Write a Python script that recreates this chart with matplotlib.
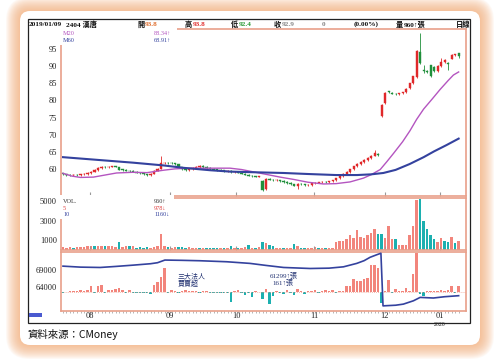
import matplotlib.pyplot as plt
from matplotlib.patches import FancyBboxPatch, Rectangle

plt.rcParams['font.family'] = ['Liberation Serif', 'Noto Sans CJK TC', 'DejaVu Sans']

# ---- K線資料 (開 / 高 / 低 / 收), 114 個交易日 ----
opn = [58.9, 58.5, 58.3, 58.2, 58.4, 58.3, 58.5, 58.6, 58.9, 59.3,
       59.7, 60.4, 60.6, 60.5, 60.7, 60.8, 60.6, 59.9, 59.8, 59.6,
       59.5, 59.3, 59.0, 58.8, 58.5, 58.3, 58.7, 59.5, 60.2, 61.7,
       61.9, 61.8, 61.7, 61.4, 60.6, 60.1, 59.8, 60.1, 60.3, 60.6,
       61.0, 60.6, 60.3, 60.1, 59.9, 59.8, 59.7, 59.5, 59.6, 59.2,
       59.3, 59.0, 58.7, 58.4, 58.1, 57.9, 57.8, 56.6, 54.1, 57.2,
       57.0, 56.8, 56.9, 56.6, 56.3, 56.0, 55.6, 55.2, 55.7, 55.6,
       55.3, 55.4, 55.9, 56.1, 56.2, 56.4, 56.2, 56.5, 56.8, 57.3,
       57.9, 58.6, 59.2, 60.0, 60.8, 61.5, 62.0, 62.6, 63.2, 63.9,
       64.5, 75.5, 79.2, 82.7, 82.3, 82.0, 81.8, 82.1, 82.5, 83.5,
       85.0, 86.8, 94.2, 88.9, 88.6, 90.2, 89.6, 88.5, 90.0, 91.3,
       91.0, 92.2, 93.3, 93.8]
cls = [58.6, 58.3, 58.2, 58.4, 58.3, 58.5, 58.6, 58.9, 59.3, 59.7,
       60.4, 60.6, 60.5, 60.7, 60.8, 60.7, 59.9, 59.8, 59.6, 59.5,
       59.3, 59.0, 58.8, 58.5, 58.3, 58.7, 59.5, 60.2, 61.7, 61.9,
       61.8, 61.7, 61.5, 60.6, 60.1, 59.8, 60.1, 60.3, 60.6, 60.9,
       60.6, 60.3, 60.1, 59.9, 59.8, 59.7, 59.5, 59.6, 59.2, 59.3,
       59.0, 58.7, 58.4, 58.1, 57.9, 57.8, 57.9, 53.9, 57.2, 57.0,
       56.8, 56.9, 56.6, 56.3, 56.0, 55.6, 55.2, 55.7, 55.6, 55.3,
       55.4, 55.9, 56.1, 56.2, 56.4, 56.2, 56.5, 56.8, 57.3, 57.9,
       58.6, 59.2, 60.0, 60.8, 61.5, 62.0, 62.6, 63.2, 63.9, 64.6,
       64.1, 78.8, 82.1, 82.4, 82.0, 81.8, 82.1, 82.4, 83.3, 85.0,
       87.0, 94.4, 91.0, 88.5, 88.3, 87.2, 88.6, 90.0, 91.2, 91.8,
       90.5, 93.3, 93.4, 92.9]
hi = [59.0, 58.7, 58.5, 58.6, 58.6, 58.7, 58.8, 59.1, 59.5, 60.0,
      60.6, 60.9, 60.8, 60.9, 61.0, 61.0, 60.7, 60.1, 60.0, 59.8,
      59.7, 59.4, 59.2, 59.0, 58.7, 58.9, 59.7, 60.4, 63.9, 62.2,
      62.1, 62.0, 61.9, 61.5, 60.7, 60.2, 60.3, 60.5, 60.8, 61.1,
      61.2, 60.8, 60.5, 60.3, 60.1, 60.0, 59.9, 59.8, 59.7, 59.5,
      59.5, 59.2, 58.9, 58.6, 58.3, 58.1, 58.1, 56.8, 57.4, 57.4,
      57.2, 57.1, 57.0, 56.8, 56.5, 56.2, 55.8, 55.9, 55.9, 55.8,
      55.6, 56.1, 56.3, 56.4, 56.6, 56.6, 56.7, 57.0, 57.5, 58.1,
      58.8, 59.4, 60.2, 61.0, 61.8, 62.3, 62.9, 63.5, 64.2, 65.5,
      64.7, 79.0, 82.4, 82.9, 82.5, 82.2, 82.3, 82.6, 83.5, 85.2,
      87.2, 94.6, 99.6, 90.3, 88.9, 90.4, 89.9, 90.2, 92.3, 92.0,
      91.3, 93.5, 93.6, 93.8]
lo = [58.4, 58.1, 58.0, 58.0, 58.1, 58.1, 58.3, 58.4, 58.7, 59.1,
      59.5, 60.2, 60.3, 60.3, 60.5, 60.5, 59.7, 59.6, 59.4, 59.3,
      59.1, 58.8, 58.6, 58.3, 58.1, 58.1, 58.6, 59.4, 60.0, 61.4,
      61.5, 61.4, 61.2, 60.4, 59.9, 59.6, 59.6, 59.9, 60.1, 60.4,
      60.4, 60.1, 59.9, 59.7, 59.6, 59.5, 59.3, 59.3, 59.0, 59.0,
      58.8, 58.5, 58.2, 57.9, 57.7, 57.6, 57.6, 53.6, 53.9, 56.8,
      56.6, 56.6, 56.4, 56.1, 55.8, 55.4, 55.0, 54.3, 55.4, 55.1,
      55.1, 55.2, 55.7, 55.9, 56.0, 56.0, 56.0, 56.3, 56.6, 57.1,
      57.7, 58.4, 59.0, 59.8, 60.6, 61.3, 61.8, 62.4, 63.0, 63.7,
      63.9, 75.3, 79.0, 82.1, 81.8, 81.6, 81.6, 81.9, 82.3, 83.3,
      84.8, 86.6, 90.5, 88.1, 88.0, 86.8, 88.3, 88.3, 89.8, 91.0,
      89.0, 92.0, 93.0, 92.4]

# 均線 (取樣點)
ma20_idx = [0, 2.5, 5, 8.7, 12, 15.3, 20, 24, 28.7, 32, 36, 42, 47.7, 51, 54, 58,
            62, 66, 70, 74.4, 78, 82, 85.8, 88, 90.6, 92.5, 94.4, 97, 99.1, 101,
            103, 105.5, 107.7, 110, 111.5, 113]
ma20_val = [58.8, 58.0, 57.6, 57.7, 58.3, 58.9, 59.1, 59.0, 59.7, 60.1, 60.3, 60.3,
            60.3, 59.9, 59.3, 58.5, 57.7, 57.0, 56.2, 55.7, 55.8, 56.3, 57.4, 58.4,
            59.9, 62.2, 64.6, 68.0, 71.2, 74.5, 77.5, 80.5, 83.2, 85.8, 87.4, 88.3]
ma60_idx = [0, 10, 20, 28.7, 34.4, 42, 47.7, 55, 63, 70, 78, 84, 88, 91.5, 95, 99,
            103, 106, 109.5, 113]
ma60_val = [63.5, 62.7, 61.9, 61.1, 60.4, 59.7, 59.3, 59.1, 58.9, 58.6, 58.3, 58.3,
            58.5, 58.9, 59.8, 61.5, 63.5, 65.2, 67.0, 68.9]

# 成交量 (張)
vol = [300, 250, 280, 250, 300, 350, 280, 450, 420, 430,
       450, 400, 450, 380, 420, 350, 850, 300, 420, 400,
       380, 250, 280, 250, 300, 250, 300, 450, 1650, 400,
       300, 250, 300, 350, 350, 250, 300, 250, 220, 200,
       250, 200, 250, 200, 220, 200, 180, 200, 400, 220,
       200, 250, 300, 500, 250, 200, 300, 800, 750, 500,
       450, 250, 200, 180, 250, 200, 580, 400, 220, 180,
       250, 200, 350, 170, 180, 170, 170, 180, 850, 900,
       950, 1150, 1500, 1200, 2050, 1300, 1250, 1500, 1700, 2100,
       1600, 1650, 1200, 2400, 1150, 1150, 500, 480, 550, 1500,
       2500, 5100, 5200, 3000, 2100, 1500, 1150, 800, 1250, 900,
       850, 1330, 680, 960]
vol_down = [3, 9, 12, 16, 19, 21, 22, 23, 24, 30, 33, 34, 35, 39, 41, 42, 43, 44, 46,
            48, 50, 53, 55, 57, 59, 60, 63, 66, 68, 69, 73, 75, 90, 91, 95,
            102, 103, 104, 105, 106, 109, 110, 112]

# 三大法人 買賣超 (張) 與 持股 (張)
inst = [-35, 10, 15, 20, 35, 40, 30, 40, 145, -30,
        145, 170, -25, 60, 50, 70, 100, 50, -20, 40,
        -25, -30, -25, -30, -20, -50, 190, 255, 380, 600,
        -25, 60, 20, -15, 30, 40, 30, 35, 20, -20,
        15, 20, -15, -25, -30, -25, -30, -20, -255, 20,
        60, -15, -70, -20, -135, 15, 10, -170, 75, -300,
        -110, 20, -30, -45, 60, -20, -85, 85, 20, -50,
        15, 20, 60, -20, 15, 45, 15, 40, -20, 20,
        30, 160, 160, 330, 270, 270, 330, 360, 680, 700,
        610, -280, 30, 300, -15, 80, 20, 30, 110, 20,
        450, 990, -40, -95, 25, 30, 35, 30, 40, 25,
        40, 150, -25, 161]
hold_idx = [0, 5, 10.6, 15, 20.1, 25, 27, 29.1, 34, 39.1, 46.8, 53.4, 58, 63, 70.6,
            76, 80.1, 83.9, 86, 87.7, 89.5, 90.8, 91.4, 95, 97.2, 100.1, 102, 105.8,
            109, 113]
hold_val = [69990, 69700, 69600, 69900, 70290, 70700, 71000, 71780, 71700, 71580,
            71280, 70800, 70200, 69600, 69300, 69400, 69790, 70800, 71600, 72590,
            73300, 73790, 58310, 58500, 58820, 59810, 60800, 60620, 61000, 61299]

month_pos = [7.6, 30.5, 49.5, 71.7, 91.9, 107.7]
month_lab = ['08', '09', '10', '11', '12', '01']

RED, GREEN = '#e0282a', '#1f8f3a'
PINK, TEAL = '#f2857c', '#1cb0b0'
MA20_C, MA60_C = '#b455c0', '#34429e'
SPINE = '#e9a08a'
W, H = 500, 361


def box(l, t, r, b):
    return [l / W, 1 - b / H, (r - l) / W, (b - t) / H]


fig = plt.figure(figsize=(5, 3.61), dpi=100)

# 背景卡片
bg = fig.add_axes([0, 0, 1, 1], zorder=-10)
bg.set_xlim(0, W)
bg.set_ylim(H, 0)
bg.axis('off')
for k in range(14, 0, -1):
    bg.add_patch(FancyBboxPatch((20 - k, 11 - k), 460 + 2 * k, 334 + 2 * k,
                                boxstyle=f'round,pad=0,rounding_size={10 + k}',
                                fc='#f5a468', ec='none', alpha=0.065))
bg.add_patch(FancyBboxPatch((20, 11), 460, 334, boxstyle='round,pad=0,rounding_size=10',
                            fc='white', ec='none'))
bg.add_patch(Rectangle((28, 19), 442, 304, fill=False, ec='#222222', lw=0.9))

x = list(range(len(cls)))
xlim = (-0.57, 115.1)

# 價格
ax_p = fig.add_axes(box(61, 29, 466, 196))
for i in x:
    c = RED if cls[i] >= opn[i] else GREEN
    ax_p.vlines(i, lo[i], hi[i], color=c, lw=0.6)
    ax_p.bar(i, max(abs(cls[i] - opn[i]), 0.12), bottom=min(opn[i], cls[i]),
             width=0.62, color=c, edgecolor=c, linewidth=0.3)
ax_p.plot(ma20_idx, ma20_val, color=MA20_C, lw=1.0)
ax_p.plot(ma60_idx, ma60_val, color=MA60_C, lw=1.5)
ax_p.set_ylim(52.2, 100.8)
ax_p.set_yticks([60, 65, 70, 75, 80, 85, 90, 95])

# 成交量
ax_v = fig.add_axes(box(61, 198, 466, 250))
vcol = [TEAL if i in vol_down else PINK for i in x]
ax_v.bar(x, vol, width=0.72, color=vcol)
ax_v.set_ylim(0, 5310)
ax_v.set_yticks([1000, 3000, 5000])

# 三大法人
ax_i = fig.add_axes(box(61, 252, 466, 311))
icol = [PINK if v >= 0 else TEAL for v in inst]
ax_i.bar(x, inst, width=0.72, color=icol)
ax_i.axhline(0, color='#f0a090', lw=0.6, ls=(0, (1, 1.5)))
ax_i.set_ylim(-485, 1020)
ax_i.set_yticks([])
ax_h = ax_i.twinx()
ax_h.plot(hold_idx, hold_val, color=MA60_C, lw=1.2)
ax_h.set_ylim(56800, 74150)
ax_h.yaxis.set_ticks_position('left')
ax_h.set_yticks([64000, 69000])
for s in ax_h.spines.values():
    s.set_visible(False)

for ax in (ax_p, ax_v, ax_i, ax_h):
    ax.set_xlim(*xlim)
    ax.tick_params(axis='y', length=0, pad=3, labelsize=6, labelcolor='#222222')
for ax in (ax_p, ax_v, ax_i):
    for s in ax.spines.values():
        s.set_color(SPINE)
        s.set_linewidth(1.2)
for ax in (ax_p, ax_v):
    ax.set_xticks(month_pos)
    ax.tick_params(axis='x', direction='in', length=3, color='#999999', labelbottom=False)
ax_i.set_xticks(month_pos, month_lab)
ax_i.set_xticks(x, minor=True)
ax_i.tick_params(axis='x', which='major', length=0, pad=0.5, labelsize=6, labelcolor='#222222')
ax_i.tick_params(axis='x', which='minor', length=1.5, width=0.5, color='#999999')

# 文字層
ov = fig.add_axes([0, 0, 1, 1], zorder=10)
ov.set_xlim(0, W)
ov.set_ylim(H, 0)
ov.axis('off')
ov.patch.set_alpha(0)

hdr = [(29, '2019/01/09', '#111111'), (66, '2404 漢唐', '#111111'),
       (137, '開', '#111111'), (145, '93.8', '#e07030'),
       (185, '高', '#111111'), (193, '93.8', '#e03030'),
       (231, '低', '#111111'), (239, '92.4', '#2f9a3a'),
       (274, '收', '#111111'), (282, '92.9', '#888888'),
       (322, '0', '#888888'), (354, '(0.00%)', '#111111'),
       (396, '量', '#111111'), (404, '960↑張', '#111111'),
       (456, '日線', '#111111')]
for hx, t, c in hdr:
    ov.text(hx, 24.5, t, fontsize=5.2, color=c, va='center', ha='left', fontweight='bold')

ov.add_patch(Rectangle((58.5, 26), 118, 18.5, fc='white', ec='none'))
ov.text(63, 33.5, 'M20', fontsize=4.5, color=MA20_C, va='center')
ov.text(154, 33.5, '88.34↑', fontsize=4.5, color=MA20_C, va='center')
ov.text(63, 40.5, 'M60', fontsize=4.5, color=MA60_C, va='center')
ov.text(154, 40.5, '68.91↑', fontsize=4.5, color=MA60_C, va='center')

ov.add_patch(Rectangle((58.5, 195), 115, 24, fc='white', ec='none'))
ov.text(63, 201.5, 'VOL.', fontsize=4.5, color='#333333', va='center')
ov.text(154, 201.5, '960↑', fontsize=4.5, color='#333333', va='center')
ov.text(63, 208.3, '5', fontsize=4.5, color='#e04040', va='center')
ov.text(154, 208.3, '978↓', fontsize=4.5, color='#e04040', va='center')
ov.text(63, 215, '10', fontsize=4.5, color=MA60_C, va='center')
ov.text(154, 215, '1160↓', fontsize=4.5, color=MA60_C, va='center')

ov.text(178, 275.5, '三大法人', fontsize=5, color='#203070', va='center')
ov.text(178, 282.5, '買賣超', fontsize=5, color='#203070', va='center')
ov.text(270, 275.5, '61299↑張', fontsize=5, color='#203070', va='center')
ov.text(272, 282.5, '161↑張', fontsize=5, color='#203070', va='center')

ov.text(440, 321.5, '2020', fontsize=4.3, color='#222222', ha='center', va='top')
ov.add_patch(Rectangle((29, 312.5), 13, 4, fc='#4a5ad0', ec='none'))
ov.text(28, 334, '資料來源：CMoney', fontsize=7.5, family=['Noto Sans CJK TC', 'DejaVu Sans'],
        color='#111111', va='center')

fig.savefig('out.png', dpi=100)
